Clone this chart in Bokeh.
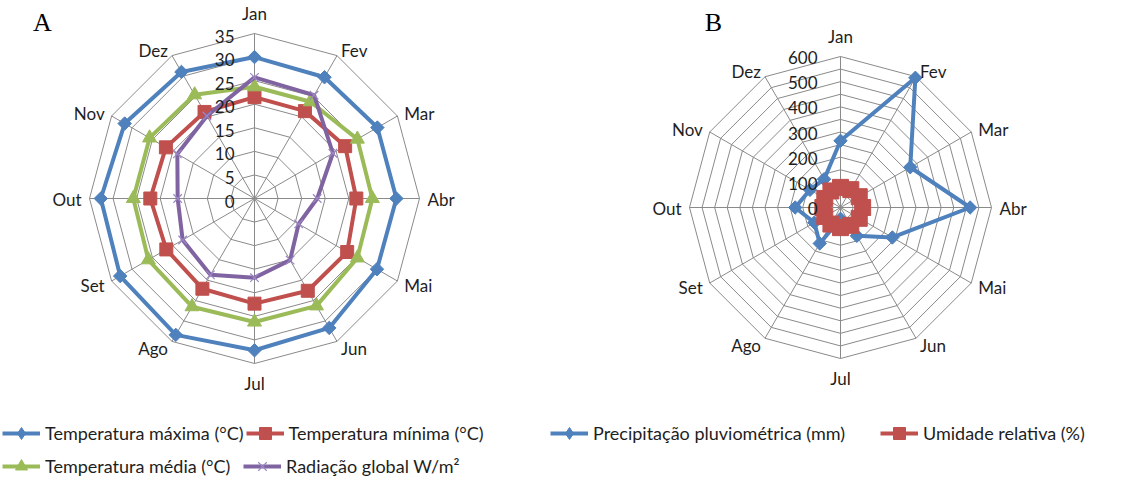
import math
from bokeh.plotting import figure
from bokeh.models import Range1d, Legend, LegendItem, ColumnDataSource, Label
from bokeh.layouts import row
from bokeh.embed import file_html
from bokeh.resources import INLINE
from bokeh.core.properties import value

# ---------------- data ----------------
months = ["Jan", "Fev", "Mar", "Abr", "Mai", "Jun", "Jul", "Ago", "Set", "Out", "Nov", "Dez"]

temp_max = [30.0, 29.7, 30.1, 30.1, 30.0, 31.7, 32.2, 33.4, 32.9, 32.6, 31.8, 31.0]
temp_min = [21.5, 21.4, 22.2, 21.6, 22.7, 22.6, 22.3, 22.1, 21.6, 22.1, 21.7, 21.2]
temp_med = [23.7, 23.7, 25.2, 25.0, 25.2, 26.3, 26.2, 26.5, 26.0, 25.7, 25.7, 25.4]
radiacao = [25.7, 25.3, 19.2, 13.3, 10.8, 15.1, 16.8, 18.7, 17.6, 16.3, 18.9, 20.2]

precip = [265, 595, 320, 515, 238, 130, 45, 165, 120, 180, 140, 130]
umidade = [80, 82, 86, 88, 86, 82, 80, 76, 72, 70, 72, 76]

ticks_a = [0, 5, 10, 15, 20, 25, 30, 35]
rings_a = [5, 10, 15, 20, 25, 30, 35]
ticks_b = [0, 100, 200, 300, 400, 500, 600]
rings_b = [50, 100, 150, 200, 250, 300, 350, 400, 450, 500, 550, 600]

# ---------------- style ----------------
BLUE = "#4F81BD"
RED = "#C0504D"
GREEN = "#9BBB59"
PURPLE = "#8064A2"
GRID = "#8a8a8a"
TXT = "#1e1e1e"
FONT = "Lato"

H = 484
N = len(months)
angs = [i * 2 * math.pi / N for i in range(N)]


def loop(vals):
    xs = [v * math.sin(a) for v, a in zip(vals, angs)]
    ys = [v * math.cos(a) for v, a in zip(vals, angs)]
    return xs + xs[:1], ys + ys[:1]


def make_fig(width, cx, cy, rmax_val, rmax_px):
    s = rmax_px / rmax_val
    p = figure(width=width, height=H, output_backend="svg", toolbar_location=None,
               x_range=Range1d(-cx / s, (width - cx) / s),
               y_range=Range1d(-(H - cy) / s, cy / s),
               x_axis_type=None, y_axis_type=None, min_border=0)
    p.grid.visible = False
    p.outline_line_color = None
    p.background_fill_color = "white"
    p.border_fill_color = "white"
    return p


def draw_grid(p, rings, rmax):
    xs, ys = [], []
    for r in rings:
        lx, ly = loop([r] * N)
        xs.append(lx)
        ys.append(ly)
    p.multi_line(xs, ys, line_color=GRID, line_width=1)
    p.segment(x0=[0] * N, y0=[0] * N,
              x1=[rmax * math.sin(a) for a in angs],
              y1=[rmax * math.cos(a) for a in angs],
              line_color=GRID, line_width=1)


def month_labels(p, rmax, size):
    groups = {"left": {}, "right": {}, "center": {}}
    for m, a in zip(months, angs):
        sa, ca = math.sin(a), math.cos(a)
        if abs(sa) < 0.01:
            al = "center"
            dy = -20 * ca
        else:
            al = "left" if sa > 0 else "right"
            dy = -7 * ca + 1
        g = groups[al]
        g.setdefault("x", []).append(rmax * sa)
        g.setdefault("y", []).append(rmax * ca)
        g.setdefault("t", []).append(m)
        g.setdefault("dx", []).append(8 * sa)
        g.setdefault("dy", []).append(dy)
    for al, g in groups.items():
        src = ColumnDataSource(g)
        p.text(x="x", y="y", text="t", x_offset="dx", y_offset="dy", source=src,
               text_align=al, text_baseline="middle", text_font=value(FONT),
               text_font_size=size, text_color=TXT)


def tick_labels(p, ticks, xoff, yoff):
    p.text(x=[0] * len(ticks), y=ticks, text=[str(t) for t in ticks],
           x_offset=xoff, y_offset=yoff, text_align="right", text_baseline="middle",
           text_font=value(FONT), text_font_size="17px", text_color=TXT)


def series(p, vals, color, marker, size, mline=None, diamond=False):
    xs, ys = loop(vals)
    lr = p.line(xs, ys, line_color=color, line_width=4, line_join="round")
    if marker == "x":
        sr = p.scatter(xs[:-1], ys[:-1], marker="x", size=size, line_color=mline or color,
                       line_width=1.2)
        return [lr, sr]
    if diamond:
        # symmetric diamond: a rotated square drawn over a smaller diamond whose
        # unrotated shape is what the legend shows
        lm = p.scatter(xs[:-1], ys[:-1], marker="diamond", size=size * 0.8,
                       fill_color=color, line_color=color, line_width=1)
        p.scatter(xs[:-1], ys[:-1], marker="square", size=size, angle=math.pi / 4,
                  fill_color=color, line_color=color, line_width=1)
        return [lr, lm]
    sr = p.scatter(xs[:-1], ys[:-1], marker=marker, size=size,
                   fill_color=color, line_color=color, line_width=1)
    return [lr, sr]


def add_legend(p, items, x, y, label_width, spacing):
    lg = Legend(items=items, location=(x, y), orientation="horizontal",
                glyph_width=38, glyph_height=30, label_standoff=5,
                label_width=label_width, spacing=spacing, padding=0, margin=0,
                label_text_font=FONT, label_text_font_size="18px",
                label_text_color=TXT, border_line_color=None,
                background_fill_alpha=0)
    p.add_layout(lg)


# ---------------- chart A ----------------
WA = 548
pa = make_fig(WA, 254, 198, ticks_a[-1], 165)
draw_grid(pa, rings_a, ticks_a[-1])
l_max = series(pa, temp_max, BLUE, "square", 9.5, diamond=True)
l_min = series(pa, temp_min, RED, "square", 13)
l_med = series(pa, temp_med, GREEN, "triangle", 14)
l_rad = series(pa, radiacao, PURPLE, "x", 12, mline="#9b86c4")
tick_labels(pa, ticks_a, -20, 2.5)
month_labels(pa, ticks_a[-1], "17px")
add_legend(pa, [LegendItem(label="Temperatura máxima (°C)", renderers=l_max),
                LegendItem(label="Temperatura mínima (°C)", renderers=l_min)],
           2, 36, 196, 2)
add_legend(pa, [LegendItem(label="Temperatura média (°C)", renderers=l_med),
                LegendItem(label="Radiação global W/m²", renderers=l_rad)],
           2, 3, 196, 2)
pa.add_layout(Label(x=42, y=H - 22, x_units="screen", y_units="screen", text="A",
                    text_align="center", text_baseline="middle",
                    text_font="Liberation Serif", text_font_size="26px", text_color="black"))

# ---------------- chart B ----------------
WB = 1140 - WA
pb = make_fig(WB, 840 - WA, 207, ticks_b[-1], 151)
draw_grid(pb, rings_b, ticks_b[-1])
l_pre = series(pb, precip, BLUE, "square", 9.5, diamond=True)
l_umi = series(pb, umidade, RED, "square", 16)
tick_labels(pb, ticks_b, -23, 1)
month_labels(pb, ticks_b[-1], "17px")
add_legend(pb, [LegendItem(label="Precipitação pluviométrica (mm)", renderers=l_pre),
                LegendItem(label="Umidade relativa (%)", renderers=l_umi)],
           2, 36, 283, 4)
pb.add_layout(Label(x=713 - WA, y=H - 22, x_units="screen", y_units="screen", text="B",
                    text_align="center", text_baseline="middle",
                    text_font="Liberation Serif", text_font_size="26px", text_color="black"))

layout = row(pa, pb)
open("out.html", "w").write(file_html(layout, INLINE))
